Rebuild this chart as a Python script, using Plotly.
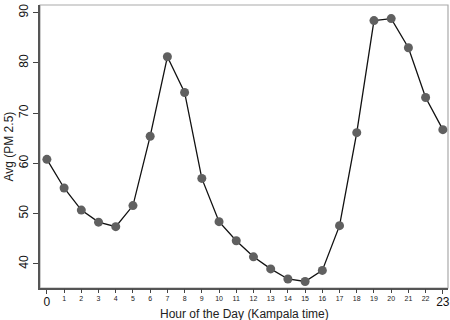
import plotly.graph_objects as go

hours = list(range(24))
pm25 = [60.8, 55.1, 50.7, 48.3, 47.4, 51.6, 65.4, 81.2, 74.1, 57.0, 48.4, 44.6,
        41.4, 39.0, 37.0, 36.5, 38.7, 47.6, 66.1, 88.4, 88.8, 83.0, 73.1, 66.7]
y_ticks = [40, 50, 60, 70, 80, 90]
x_major = [0, 23]
x_minor = list(range(1, 23))
x_range = [-0.4, 23.3]
x_title = "Hour of the Day (Kampala time)"
y_title = "Avg (PM 2.5)"

fig = go.Figure()
fig.add_trace(go.Scatter(
    x=hours, y=pm25, mode="lines+markers",
    line=dict(color="#111111", width=1.3),
    marker=dict(color="#606060", size=9),
    showlegend=False, cliponaxis=False,
))
fig.add_trace(go.Scatter(x=[hours[0], hours[-1]], y=[pm25[0], pm25[-1]], xaxis="x2",
                         mode="markers", marker=dict(opacity=0), showlegend=False,
                         hoverinfo="skip"))

fig.update_layout(
    width=450, height=320,
    margin=dict(l=40, r=2, t=5, b=32, autoexpand=False),
    paper_bgcolor="white", plot_bgcolor="white",
    font=dict(family="Liberation Sans, Arial, sans-serif", color="#222"),
    xaxis=dict(
        range=x_range, tickvals=x_major, ticktext=[str(v) for v in x_major],
        tickfont=dict(size=12, color="#111"), ticks="outside", ticklen=4,
        tickcolor="#444", showgrid=False, zeroline=False, showline=True,
        linecolor="#555", linewidth=1.5, automargin=False, ticklabelstandoff=-2,
    ),
    xaxis2=dict(
        overlaying="x", side="bottom", anchor="y", matches="x",
        range=x_range, tickvals=x_minor, ticktext=[str(v) for v in x_minor],
        tickfont=dict(size=7, color="#222"), ticks="outside", ticklen=4,
        tickcolor="#444", showgrid=False, zeroline=False, showline=False,
        automargin=False,
    ),
    yaxis=dict(
        range=[35.2, 91.5], tickvals=y_ticks, tickangle=-90,
        tickfont=dict(size=12, color="#111"), ticks="outside", ticklen=5,
        tickcolor="#444", showgrid=False, zeroline=False, showline=True,
        linecolor="#555", linewidth=1.5, automargin=False, ticklabelstandoff=0,
    ),
    shapes=[dict(type="rect", xref="paper", yref="paper", x0=0, x1=1, y0=0, y1=1,
                 line=dict(color="#aaaaaa", width=1.2), layer="below")],
    annotations=[
        dict(text=x_title, xref="paper", yref="paper", x=0.5, y=0, yshift=-26,
             xanchor="center", yanchor="middle", showarrow=False,
             font=dict(size=12, color="#222")),
        dict(text=y_title, xref="paper", yref="paper", x=0, y=0.5, xshift=-32,
             xanchor="center", yanchor="middle", textangle=-90, showarrow=False,
             font=dict(size=12, color="#222")),
    ],
)

fig.write_html("out.html", config={"displayModeBar": False})

with open("out.html", encoding="utf-8") as f:
    html = f.read()
html = html.replace("<head>", "<head><style>html,body{margin:0;padding:0;overflow:hidden;}</style>", 1)
with open("out.html", "w", encoding="utf-8") as f:
    f.write(html)
